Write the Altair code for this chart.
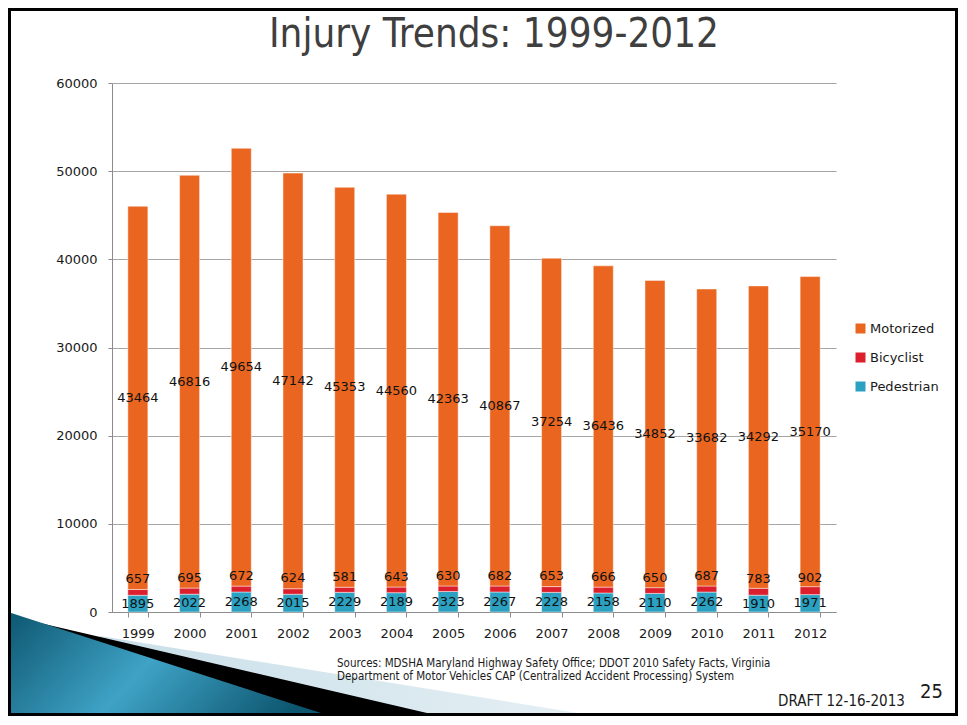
import altair as alt
import pandas as pd

years = ["1999", "2000", "2001", "2002", "2003", "2004", "2005",
         "2006", "2007", "2008", "2009", "2010", "2011", "2012"]
pedestrian = [1895, 2022, 2268, 2015, 2229, 2189, 2323, 2267, 2228, 2158, 2110, 2262, 1910, 1971]
bicyclist = [657, 695, 672, 624, 581, 643, 630, 682, 653, 666, 650, 687, 783, 902]
motorized = [43464, 46816, 49654, 47142, 45353, 44560, 42363, 40867, 37254, 36436, 34852, 33682, 34292, 35170]

series_names = ["Motorized", "Bicyclist", "Pedestrian"]
series_colors = ["#EA6620", "#DB1F2D", "#2BA0C0"]
y_ticks = [0, 10000, 20000, 30000, 40000, 50000, 60000]

title_text = "Injury Trends: 1999-2012"
source_lines = ["Sources: MDSHA Maryland Highway Safety Office; DDOT 2010 Safety Facts, Virginia",
                "Department of Motor Vehicles CAP (Centralized Accident Processing) System"]
draft_text = "DRAFT 12-16-2013"
page_number = "25"

rows = []
for i, yr in enumerate(years):
    for order, (name, vals) in enumerate([("Pedestrian", pedestrian),
                                          ("Bicyclist", bicyclist),
                                          ("Motorized", motorized)]):
        rows.append({"year": yr, "series": name, "value": vals[i], "order": order})
df = pd.DataFrame(rows)
one = pd.DataFrame({"k": [0]})

FONT = "DejaVu Sans"
NARROW = "DejaVu Sans Condensed, Liberation Sans Narrow, DejaVu Sans"

W, H = 724, 529
PAD_L, PAD_T = 104, 75
SVG_W, SVG_H = 950, 708

x_enc = alt.X("year:N", sort=years,
              scale=alt.Scale(paddingInner=0.613, paddingOuter=0.3065),
              axis=alt.Axis(title=None, labelAngle=0, tickBand="extent", tickSize=5,
                            labelPadding=10, domainColor="#8C8C8C", tickColor="#8C8C8C",
                            labelFontSize=13, labelColor="#1A1A1A", grid=False))
y_scale = alt.Scale(domain=[0, 60000], nice=False)

bars = alt.Chart(df).mark_bar(stroke="white", strokeOpacity=0.45, strokeWidth=1).encode(
    x=x_enc,
    y=alt.Y("value:Q", stack="zero", scale=y_scale,
            axis=alt.Axis(values=y_ticks, format="d", title=None, grid=True,
                          gridColor="#A6A6A6", domainColor="#8C8C8C", tickColor="#8C8C8C",
                          tickSize=4, labelPadding=11, labelFontSize=13, labelColor="#1A1A1A")),
    color=alt.Color("series:N", scale=alt.Scale(domain=series_names, range=series_colors),
                    legend=alt.Legend(title=None, orient="none", legendX=742, legendY=239,
                                      symbolType="square", symbolSize=100, labelFontSize=13,
                                      labelColor="#1A1A1A", rowPadding=15, labelOffset=3,
                                      symbolStrokeWidth=0)),
    order=alt.Order("order:Q", sort="ascending"),
)

label_base = alt.Chart(df).transform_stack(
    stack="value", groupby=["year"], sort=[alt.SortField("order", order="ascending")],
    as_=["v0", "v1"]
).transform_calculate(mid="(datum.v0 + datum.v1) / 2")

main_labels = label_base.transform_filter("datum.series != 'Bicyclist'").mark_text(
    fontSize=13, color="#111111", font=FONT
).encode(x=alt.X("year:N", sort=years), y=alt.Y("mid:Q", scale=y_scale),
         text=alt.Text("value:Q", format="d"))

bic_labels = label_base.transform_filter("datum.series == 'Bicyclist'").mark_text(
    fontSize=13, color="#111111", font=FONT, dy=-13
).encode(x=alt.X("year:N", sort=years), y=alt.Y("mid:Q", scale=y_scale),
         text=alt.Text("value:Q", format="d"))


def deco(path, fill):
    return alt.Chart(one).mark_point(shape=path, size=4, filled=True, fill=fill,
                                     opacity=1, strokeWidth=0).encode(
        x=alt.value(0), y=alt.value(0))


teal_grad = alt.Gradient(gradient="linear", x1=0, y1=0, x2=1, y2=0.3,
                         stops=[alt.GradientStop(offset=0, color="#0D5670"),
                                alt.GradientStop(offset=0.5, color="#3FA3C6"),
                                alt.GradientStop(offset=1, color="#0D5670")])
light_grad = alt.Gradient(gradient="linear", x1=0, y1=0, x2=1, y2=0,
                          stops=[alt.GradientStop(offset=0, color="#C9DFE9"),
                                 alt.GradientStop(offset=1, color="#E8F1F5")])

light_band = deco("M-12,553 L528,640 L-12,640 Z", light_grad)
black_band = deco("M-72,540 L358,640 L-72,640 Z", "#000000")
teal_band = deco("M-104,529 L240,640 L-104,640 Z", teal_grad)

frame = alt.Chart(one).mark_rect(fillOpacity=0, stroke="#000000", strokeWidth=3).encode(
    x=alt.value(-PAD_L + 1.5), x2=alt.value(SVG_W - PAD_L - 1.5),
    y=alt.value(-PAD_T + 1.5), y2=alt.value(SVG_H - PAD_T - 1.5))

title = alt.Chart(one).mark_text(text=title_text, font=NARROW, fontSize=40, color="#3F3F3F",
                                 align="center", baseline="alphabetic").encode(
    x=alt.value(382), y=alt.value(-36))

sources = alt.Chart(one).mark_text(text=source_lines, font=NARROW, fontSize=11.5,
                                   color="#1A1A1A", align="left", baseline="alphabetic",
                                   lineHeight=13).encode(
    x=alt.value(225), y=alt.value(584))

draft = alt.Chart(one).mark_text(text=draft_text, font=NARROW, fontSize=15, color="#1A1A1A",
                                 align="left", baseline="alphabetic").encode(
    x=alt.value(666), y=alt.value(623))

page = alt.Chart(one).mark_text(text=page_number, font=NARROW, fontSize=20, color="#1A1A1A",
                                align="left", baseline="alphabetic").encode(
    x=alt.value(808), y=alt.value(615))

chart = alt.layer(
    bars, main_labels, bic_labels,
    light_band, black_band, teal_band,
    title, sources, draft, page, frame
).properties(
    width=W, height=H,
    padding={"left": PAD_L, "top": PAD_T, "right": SVG_W - PAD_L - W, "bottom": SVG_H - PAD_T - H},
    autosize=alt.AutoSizeParams(type="none"),
    background="white",
).configure(font=FONT).configure_view(stroke=None)

chart.save("out.html", embed_options={"renderer": "svg", "actions": False})
